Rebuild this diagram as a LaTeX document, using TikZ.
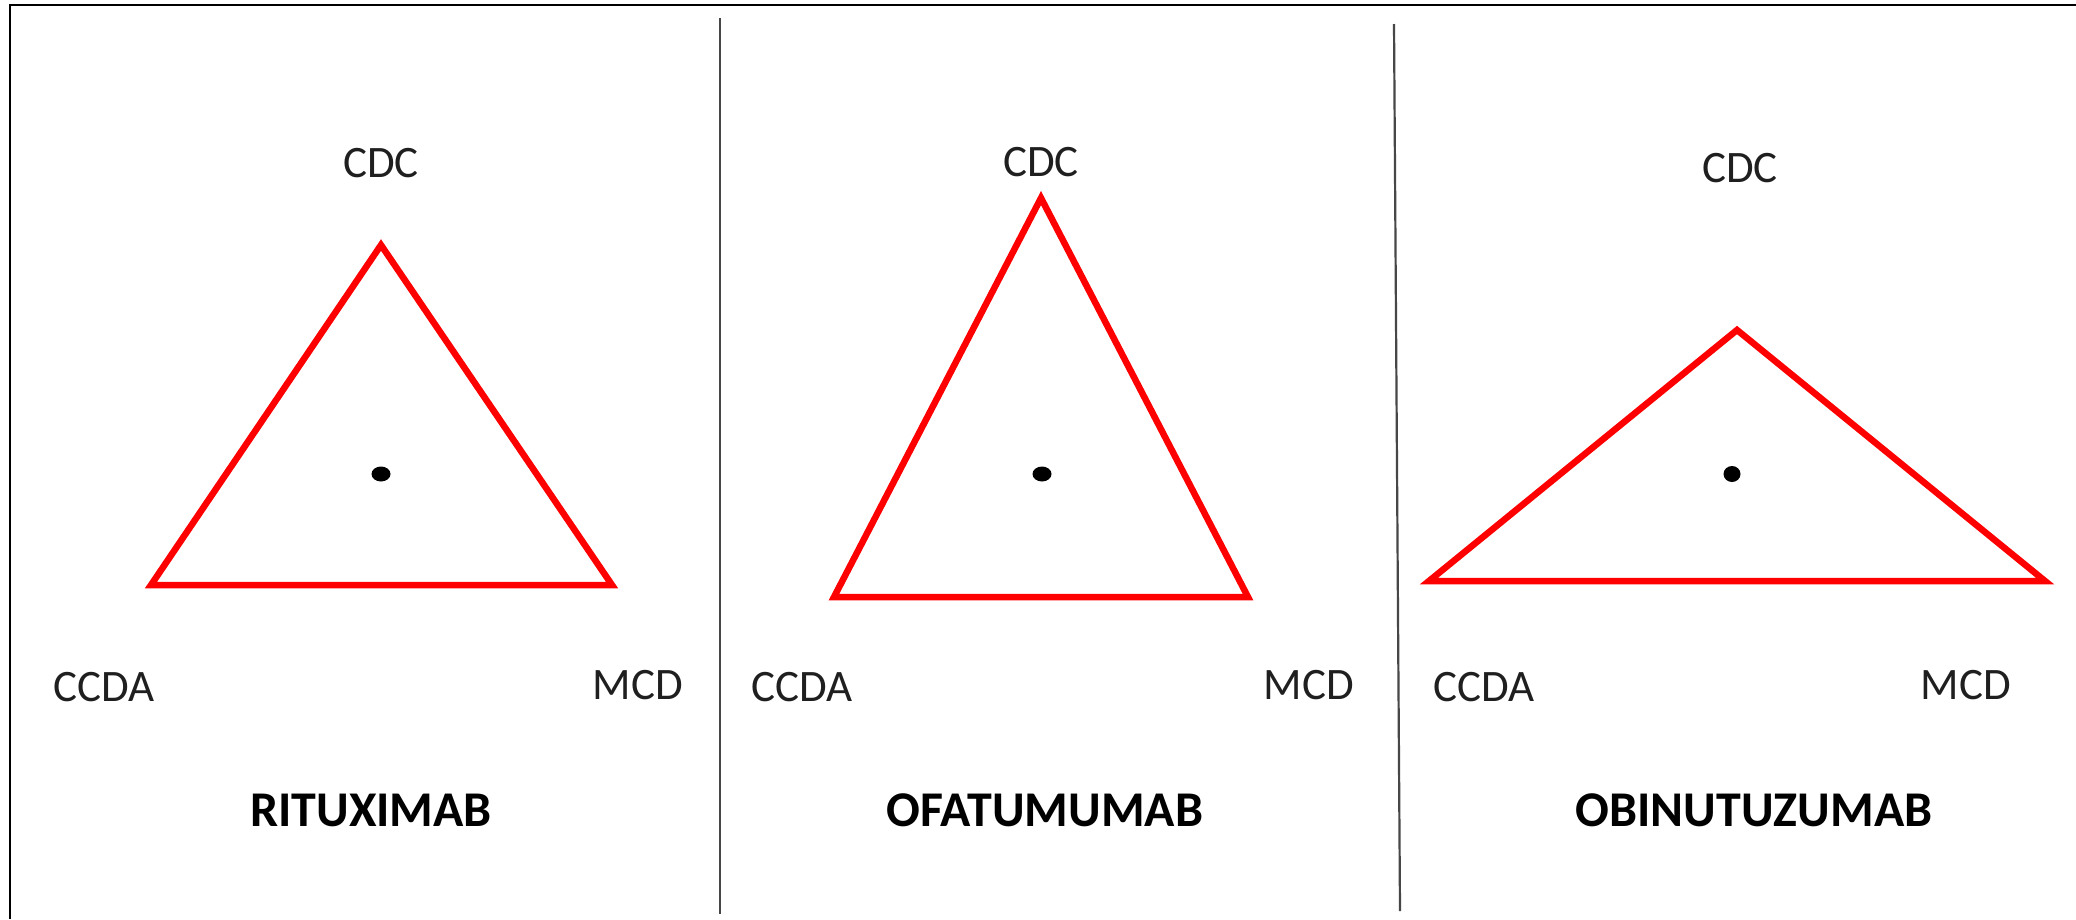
\documentclass[tikz,border=0pt]{standalone}
\usepackage{fontspec}
\setmainfont{Carlito}
\begin{document}
\begin{tikzpicture}[x=1pt,y=-1pt,
  vlabel/.style={font=\fontsize{45}{52}\selectfont, text=black!88, inner sep=0pt, anchor=center},
  drugname/.style={font=\fontsize{50}{58}\selectfont\bfseries, text=black, inner sep=0pt, anchor=center},
  tri/.style={draw=red, line width=6.5pt, line join=miter},
  divider/.style={draw=black!72, line width=2.2pt},
  frame/.style={draw=black, line width=2.2pt},
  centroid/.style={fill=black}]
\useasboundingbox (0,0) rectangle (2076,919);
\fill[white] (0,0) rectangle (2076,919);

% outer frame (top and left edges only)
\coordinate (ftr) at (2076,5);
\coordinate (ftl) at (10,5);
\coordinate (fbl) at (10,919);
\draw[frame] (ftr) -- (ftl) -- (fbl);

% panel dividers
\coordinate (d1t) at (720,18);
\coordinate (d1b) at (720,914);
\coordinate (d2t) at (1394,24);
\coordinate (d2b) at (1400,911);
\draw[divider] (d1t) -- (d1b);
\draw[divider] (d2t) -- (d2b);

% ---- panel 1: rituximab
\coordinate (a1) at (381,245);
\coordinate (b1) at (151,585);
\coordinate (c1) at (612,585);
\draw[tri] (a1) -- (b1) -- (c1) -- cycle;
\fill[centroid] (381,474) ellipse [x radius=9.5, y radius=7.5];
\node[vlabel] (cdc1) at (381,163) {CDC};
\node[vlabel] (ccda1) at (104,687) {CCDA};
\node[vlabel] (mcd1) at (638,685) {MCD};
\node[drugname] (n1) at (371,810) {RITUXIMAB};

% ---- panel 2: ofatumumab
\coordinate (a2) at (1041,198);
\coordinate (b2) at (834,597);
\coordinate (c2) at (1248,597);
\draw[tri] (a2) -- (b2) -- (c2) -- cycle;
\fill[centroid] (1042,474) ellipse [x radius=9.5, y radius=7.5];
\node[vlabel] (cdc2) at (1041,162) {CDC};
\node[vlabel] (ccda2) at (802,687) {CCDA};
\node[vlabel] (mcd2) at (1309,685) {MCD};
\node[drugname] (n2) at (1045,810) {OFATUMUMAB};

% ---- panel 3: obinutuzumab
\coordinate (a3) at (1737,330);
\coordinate (b3) at (1429,581);
\coordinate (c3) at (2045,581);
\draw[tri] (a3) -- (b3) -- (c3) -- cycle;
\fill[centroid] (1732,474) ellipse [x radius=8.5, y radius=8];
\node[vlabel] (cdc3) at (1740,168) {CDC};
\node[vlabel] (ccda3) at (1484,687) {CCDA};
\node[vlabel] (mcd3) at (1966,685) {MCD};
\node[drugname] (n3) at (1754,810) {OBINUTUZUMAB};
\end{tikzpicture}
\end{document}
